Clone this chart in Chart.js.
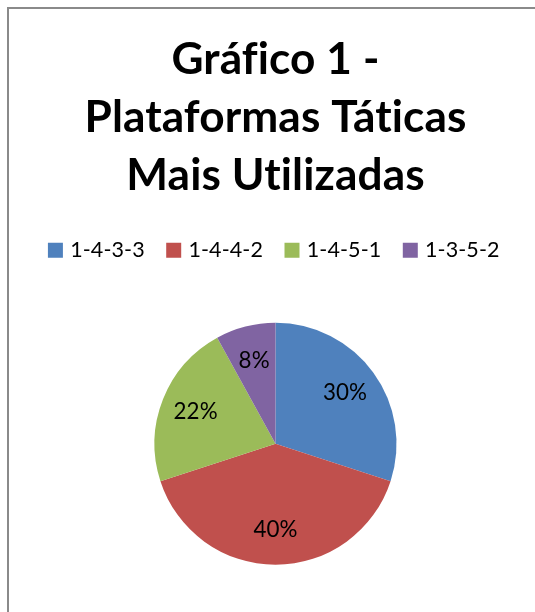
<!DOCTYPE html>
<html>
<head>
<meta charset="utf-8">
<script src="https://cdn.jsdelivr.net/npm/chart.js@4/dist/chart.umd.min.js"></script>
<style>
  html, body { margin: 0; padding: 0; background: #fff; overflow: hidden; width: 535px; height: 612px; }
  #frame { position: absolute; left: 7px; top: 7px; width: 600px; height: 700px;
           border-top: 2px solid #8a8a8a; border-left: 2px solid #8a8a8a; }
  #wrap { position: absolute; left: 9px; top: 9px; width: 533px; height: 620px; }
</style>
</head>
<body>
<div id="frame"></div>
<div id="wrap"><canvas id="c"></canvas></div>
<script>
// ---- data ----
const titleLines = ['Gráfico 1 -', 'Plataformas Táticas', 'Mais Utilizadas'];
const categories = ['1-4-3-3', '1-4-4-2', '1-4-5-1', '1-3-5-2'];
const shares = [30, 40, 22, 8];
const sliceColors = ['#4F81BD', '#C0504D', '#9BBB59', '#8064A2'];

// ---- font sizes fitted to the reference text widths ----
const SPACING = '0.1px';
function fit(text, font, target) {
  const ctx = document.createElement('canvas').getContext('2d');
  ctx.letterSpacing = SPACING;
  ctx.font = font.replace('SIZE', '100px');
  return 100 * target / ctx.measureText(text).width;
}
const FAMILY = 'Lato, "Open Sans", sans-serif';
const titleSize = fit('Plataformas Táticas', 'bold SIZE ' + FAMILY, 381);
const legendSize = fit('1-4-3-3', 'SIZE ' + FAMILY, 74);
const labelSize = fit('30%', 'SIZE ' + FAMILY, 44);

// turn off Lato's fi / ti ligatures (Calibri in the reference has none)
const noLigatures = {
  id: 'noLigatures',
  beforeLayout(chart) { chart.ctx.letterSpacing = SPACING; },
  beforeDraw(chart) { chart.ctx.letterSpacing = SPACING; }
};

const pieLabels = {
  id: 'pieLabels',
  afterDatasetsDraw(chart) {
    const ctx = chart.ctx;
    const meta = chart.getDatasetMeta(0);
    ctx.save();
    ctx.letterSpacing = SPACING;
    ctx.font = labelSize + 'px ' + FAMILY;
    ctx.fillStyle = '#000';
    ctx.textAlign = 'center';
    ctx.textBaseline = 'middle';
    meta.data.forEach((arc, i) => {
      const p = arc.getProps(['x', 'y', 'startAngle', 'endAngle', 'outerRadius'], true);
      const mid = (p.startAngle + p.endAngle) / 2;
      const r = p.outerRadius * 0.71;
      ctx.fillText(chart.data.datasets[0].data[i] + '%', p.x + Math.cos(mid) * r, p.y + Math.sin(mid) * r);
    });
    ctx.restore();
  }
};

const defaultGen = Chart.overrides.doughnut.plugins.legend.labels.generateLabels;

new Chart(document.getElementById('c'), {
  type: 'pie',
  data: {
    labels: categories,
    datasets: [{
      data: shares,
      backgroundColor: sliceColors,
      borderWidth: 0,
      radius: 121
    }]
  },
  options: {
    responsive: true,
    maintainAspectRatio: false,
    animation: false,
    layout: { padding: { bottom: 12.5 } },
    plugins: {
      tooltip: { enabled: false },
      title: {
        display: true,
        text: titleLines,
        color: '#000',
        font: { family: FAMILY, size: titleSize, weight: 'bold', lineHeight: 58 / titleSize },
        padding: { top: 22, bottom: 9.5 }
      },
      legend: {
        display: true,
        position: 'top',
        labels: {
          color: '#000',
          font: { family: FAMILY, size: legendSize },
          boxWidth: 8,
          boxHeight: 8,
          padding: 25,
          generateLabels(chart) {
            return defaultGen(chart).map(it => Object.assign(it, {
              lineWidth: 7, strokeStyle: it.fillStyle, lineJoin: 'miter'
            }));
          }
        }
      }
    }
  },
  plugins: [noLigatures, pieLabels]
});
</script>
</body>
</html>
